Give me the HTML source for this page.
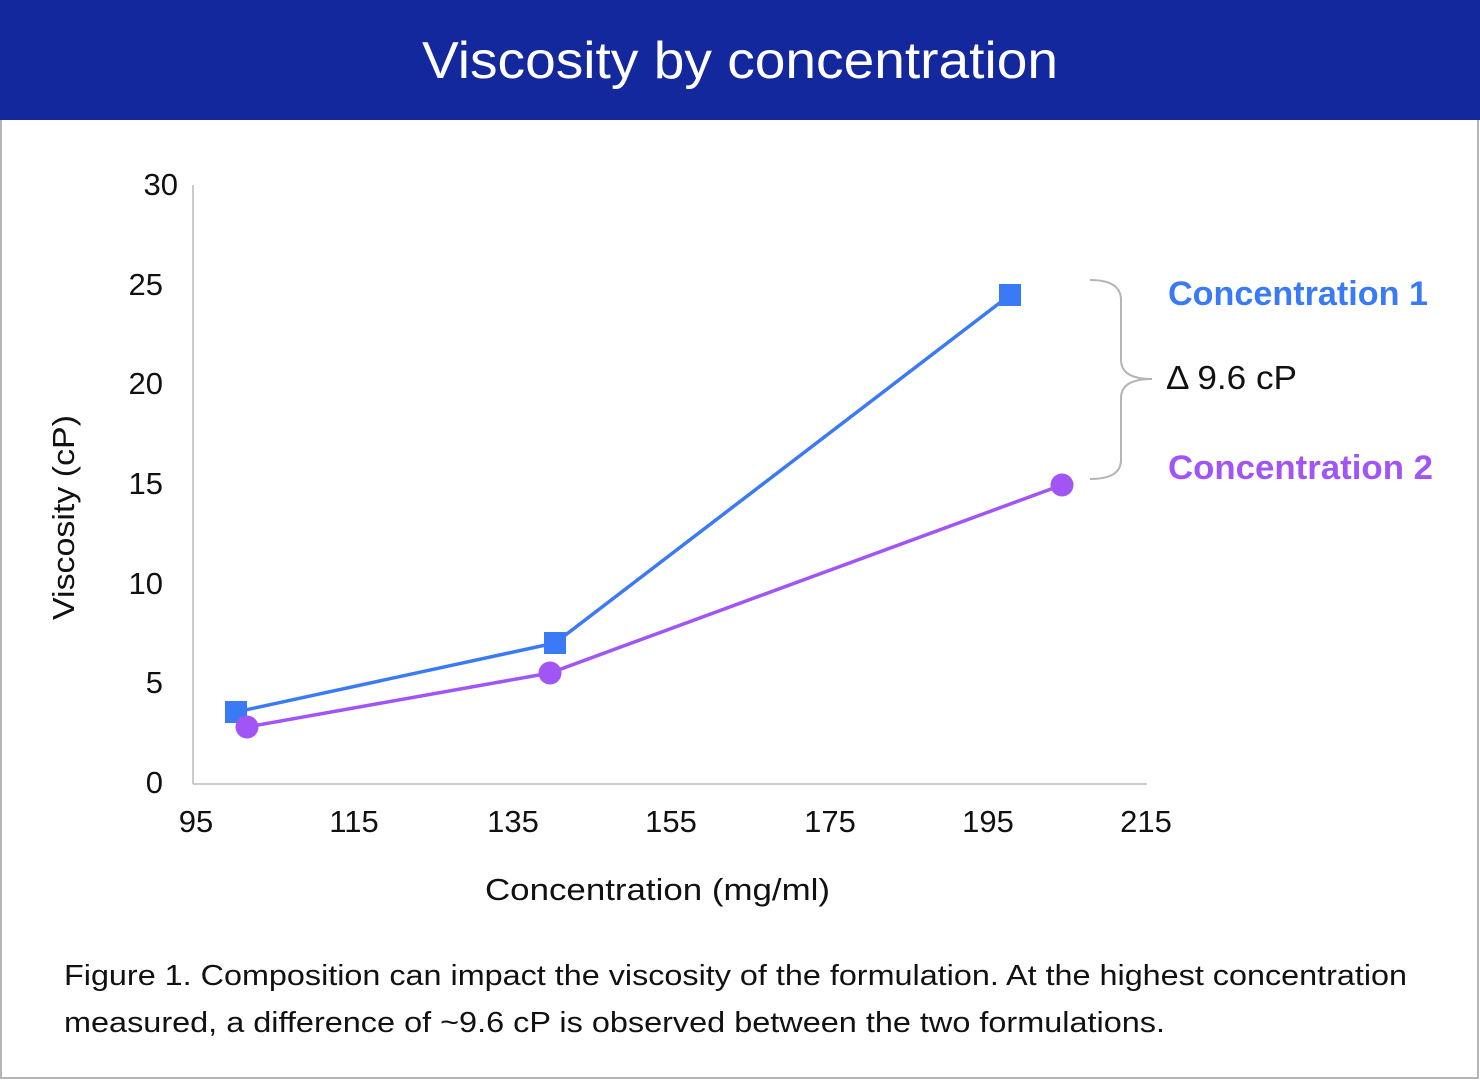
<!DOCTYPE html>
<html><head><meta charset="utf-8"><style>
html,body{margin:0;padding:0;background:#fff;}
body{width:1480px;height:1080px;overflow:hidden;font-family:"Liberation Sans",sans-serif;}
</style></head><body>
<svg width="1480" height="1080" viewBox="0 0 1480 1080" xmlns="http://www.w3.org/2000/svg" font-family="Liberation Sans, sans-serif">
<rect x="0" y="0" width="1480" height="1080" fill="#fff"/>
<rect x="1" y="100" width="1477" height="978" fill="none" stroke="#b5b5b5" stroke-width="2"/>
<rect x="0" y="0" width="1480" height="120" fill="#14289e"/>
<text x="422" y="78" font-size="52" fill="#fff" textLength="636" lengthAdjust="spacingAndGlyphs">Viscosity by concentration</text>
<line x1="193" y1="185" x2="193" y2="784" stroke="#bbb" stroke-width="1.5"/>
<line x1="193" y1="784" x2="1147" y2="784" stroke="#bbb" stroke-width="1.5"/>
<g font-size="31" fill="#111" text-anchor="end">
<text x="178" y="195">30</text><text x="163" y="295">25</text><text x="163" y="394">20</text>
<text x="163" y="494">15</text><text x="163" y="594">10</text><text x="163" y="693">5</text><text x="163" y="793">0</text>
</g>
<g font-size="31" fill="#111" text-anchor="middle">
<text x="196" y="832">95</text><text x="354" y="832">115</text><text x="513" y="832">135</text>
<text x="671" y="832">155</text><text x="830" y="832">175</text><text x="988" y="832">195</text><text x="1146" y="832">215</text>
</g>
<text x="485" y="900" font-size="31" fill="#111" textLength="345" lengthAdjust="spacingAndGlyphs">Concentration (mg/ml)</text>
<text transform="translate(74,620) rotate(-90)" font-size="31" fill="#111" textLength="205" lengthAdjust="spacingAndGlyphs">Viscosity (cP)</text>
<polyline points="236,712 555,643 1010,295" fill="none" stroke="#3a7bf5" stroke-width="3.5"/>
<rect x="225" y="701" width="22" height="22" fill="#3a7bf5"/>
<rect x="544" y="632" width="22" height="22" fill="#3a7bf5"/>
<rect x="999" y="284" width="22" height="22" fill="#3a7bf5"/>
<polyline points="247,727 550,673 1062,485" fill="none" stroke="#a155f5" stroke-width="3.5"/>
<circle cx="247" cy="727" r="11.5" fill="#a155f5"/>
<circle cx="550" cy="673" r="11.5" fill="#a155f5"/>
<circle cx="1062" cy="485" r="11.5" fill="#a155f5"/>
<path d="M1090,280 Q1121,280 1121,300 L1121,360 Q1121,379 1152,379 Q1121,379 1121,398 L1121,460 Q1121,479 1090,479" fill="none" stroke="#b5b5b5" stroke-width="2"/>
<text x="1168" y="305" font-size="34" font-weight="bold" fill="#3a7bf5" textLength="260" lengthAdjust="spacingAndGlyphs">Concentration 1</text>
<text x="1166" y="389" font-size="33" fill="#111" textLength="131" lengthAdjust="spacingAndGlyphs">Δ 9.6 cP</text>
<text x="1168" y="479" font-size="34" font-weight="bold" fill="#a155f5" textLength="265" lengthAdjust="spacingAndGlyphs">Concentration 2</text>
<text x="64" y="985" font-size="29" fill="#111" textLength="1343" lengthAdjust="spacingAndGlyphs">Figure 1. Composition can impact the viscosity of the formulation. At the highest concentration</text>
<text x="64" y="1032" font-size="29" fill="#111" textLength="1101" lengthAdjust="spacingAndGlyphs">measured, a difference of ~9.6 cP is observed between the two formulations.</text>
</svg>
</body></html>
